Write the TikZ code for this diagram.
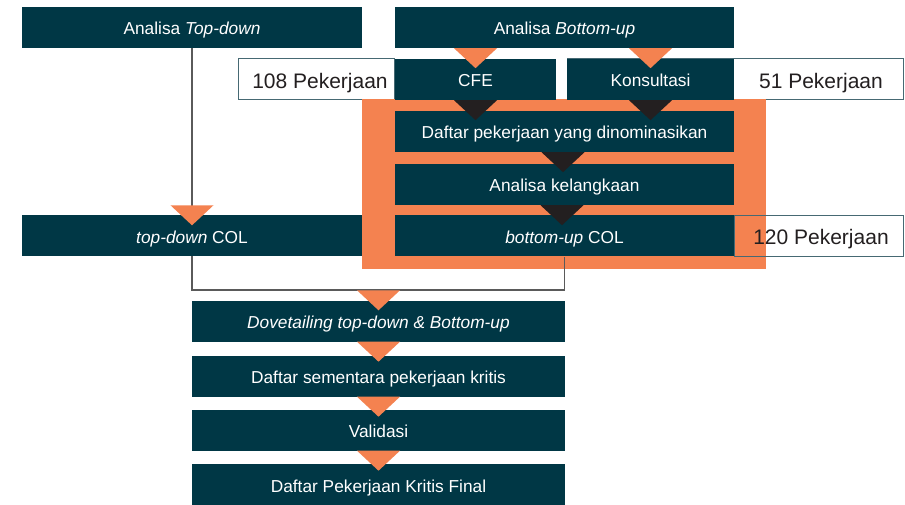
\documentclass[tikz,border=0pt]{standalone}
\usepackage{fontspec}
\setmainfont{Liberation Sans}
\usetikzlibrary{calc}
\definecolor{boxc}{RGB}{0,55,69}
\definecolor{orng}{RGB}{244,130,80}
\definecolor{darktri}{RGB}{35,31,32}
\definecolor{bordc}{RGB}{70,105,115}
\definecolor{linec}{RGB}{90,90,90}
\newcommand\mytri[3]{\fill[#1] ($(#2)+(-21.5,#3)$) -- ($(#2)+(21.5,#3)$) -- ($(#2)+(0,#3+20)$) -- cycle;}
\begin{document}
\begin{tikzpicture}[x=1pt,y=-1pt,
  box/.style={fill=boxc, text=white, inner sep=0pt, minimum height=41pt, text height=15pt, text depth=0pt, font=\fontsize{17.3}{20}\selectfont},
  numbox/.style={draw=bordc, line width=1pt, inner sep=0pt, minimum height=41pt},
  numtxt/.style={inner sep=0pt, text=darktri, text height=17.6pt, text depth=0pt, font=\fontsize{21}{24}\selectfont},
  conn/.style={draw=linec, line width=1.5pt}]
\path[use as bounding box, fill=white] (0,0) rectangle (905,505);

% number boxes behind
\node[numbox, fill=white, minimum width=156pt] (p108) at (316,79.5) {};
\node[numbox, fill=white, minimum width=336pt] (p51) at (735,79.5) {};

% orange group
\fill[orng] (362,99) rectangle (766,269);
\node[numbox, minimum width=169pt] (p120) at (818.5,236) {};

% connector
\coordinate (j) at (192,290);
\draw[conn] (192,48) -- (j) -| (564.5,257);

% boxes
\node[box, minimum width=340pt] (td) at (192,27.5) {Analisa \textit{Top-down}};
\node[box, minimum width=339pt] (bu) at (564.5,27.5) {Analisa \textit{Bottom-up}};
\node[box, minimum width=161pt] (cfe) at (475.5,79.5) {CFE};
\node[box, minimum width=167pt] (kons) at (650.5,79.5) {Konsultasi};
\node[box, minimum width=339pt] (nom) at (564.5,131.5) {Daftar pekerjaan yang dinominasikan};
\node[box, minimum width=339pt] (kel) at (564.5,184.5) {Analisa kelangkaan};
\node[box, minimum width=339pt] (buc) at (564.5,236) {\textit{bottom-up} COL};
\node[box, minimum width=340pt] (tdc) at (192,236) {\textit{top-down} COL};
\node[box, minimum width=373pt] (dove) at (378.5,321) {\textit{Dovetailing top-down \& Bottom-up}};
\node[box, minimum width=373pt] (sem) at (378.5,376) {Daftar sementara pekerjaan kritis};
\node[box, minimum width=373pt] (val) at (378.5,430) {Validasi};
\node[box, minimum width=373pt] (fin) at (378.5,484.5) {Daftar Pekerjaan Kritis Final};

% number texts
\node[numtxt] (t108) at (320,79.5) {108 Pekerjaan};
\node[numtxt] (t51) at (821,79.5) {51 Pekerjaan};
\node[numtxt] (t120) at (821,236) {120 Pekerjaan};

% triangles
\mytri{orng}{bu.south -| cfe.north}{0}
\mytri{orng}{bu.south -| kons.north}{0}
\mytri{darktri}{cfe.south}{0}
\mytri{darktri}{kons.south}{0}
\mytri{darktri}{nom.south -| 563,0}{0}
\mytri{darktri}{kel.south -| 562,0}{0}
\mytri{orng}{tdc.north}{-10}
\mytri{orng}{dove.north}{-10}
\mytri{orng}{dove.south}{0}
\mytri{orng}{sem.south}{0}
\mytri{orng}{val.south}{0}
\end{tikzpicture}
\end{document}
